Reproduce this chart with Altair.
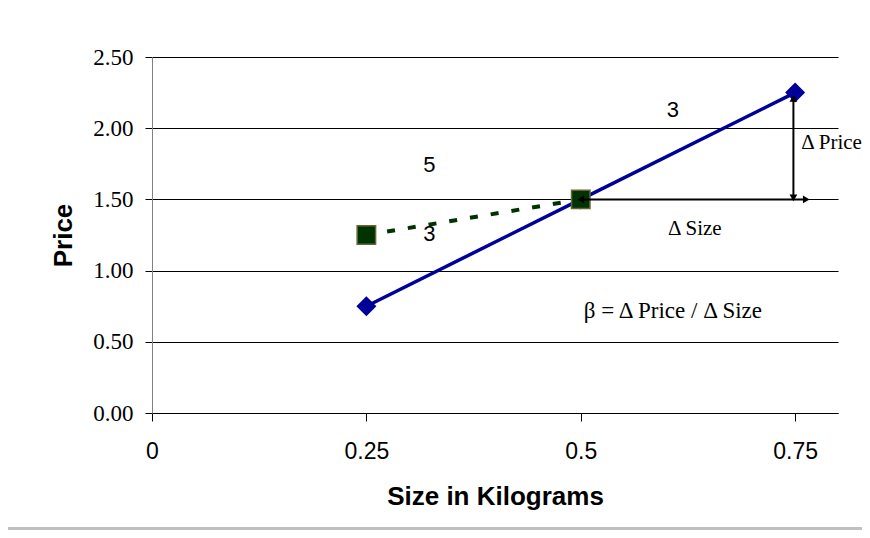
import altair as alt
import pandas as pd

# Data
blue_size = [0.25, 0.5, 0.75]
blue_price = [0.75, 1.5, 2.25]
green_size = [0.25, 0.5]
green_price = [1.25, 1.5]

# annotation texts
sans_labels = ["3", "5", "3"]
sans_x = [0.6075, 0.3236, 0.3236]
sans_y = [2.13, 1.74, 1.255]

serif_labels = ["\u0394 Price", "\u0394 Size", "\u03b2 = \u0394 Price / \u0394 Size"]
serif_x = [0.757, 0.633, 0.6075]
serif_y = [1.895, 1.29, 0.715]
serif_size = [21, 21, 23]
serif_align = ["left", "center", "center"]

# arrows
h_arrow_x = [0.5, 0.763]
h_arrow_y = 1.5
v_arrow_x = 0.748
v_arrow_y = [1.51, 2.21]

blue = pd.DataFrame({"size": blue_size, "price": blue_price})
green = pd.DataFrame({"size": green_size, "price": green_price})
stxt = pd.DataFrame({"t": sans_labels, "x": sans_x, "y": sans_y})
rtxt = pd.DataFrame({"t": serif_labels, "x": serif_x, "y": serif_y,
                     "a": serif_align, "fs": serif_size})
rules = pd.DataFrame({
    "x": [h_arrow_x[0], v_arrow_x],
    "x2": [h_arrow_x[1], v_arrow_x],
    "y": [h_arrow_y, v_arrow_y[0]],
    "y2": [h_arrow_y, v_arrow_y[1]],
})
heads = pd.DataFrame({
    "x": [h_arrow_x[0], h_arrow_x[1], v_arrow_x, v_arrow_x],
    "y": [h_arrow_y, h_arrow_y, v_arrow_y[0], v_arrow_y[1]],
    "shape": ["triangle-left", "triangle-right", "triangle-down", "triangle-up"],
    "dx": [4, -4, 0, 0],
    "dy": [0, 0, -4, 4],
})

xs = alt.Scale(domain=[0, 0.8], nice=False, zero=False)
ys = alt.Scale(domain=[0, 2.5], nice=False)

x_axis = alt.Axis(values=[0, 0.25, 0.5, 0.75], format=".2~f", grid=False,
                  title="Size in Kilograms", domainColor="black", tickColor="black",
                  tickSize=8, labelPadding=19, labelFont="Liberation Sans",
                  labelFontSize=23, labelColor="black", titleFont="Liberation Sans",
                  titleFontSize=26, titleFontWeight="bold", titleColor="black",
                  titlePadding=20, labelFlush=False)
y_axis = alt.Axis(values=[0, 0.5, 1.0, 1.5, 2.0, 2.5], format=".2f", grid=True,
                  gridColor="black", gridWidth=1, gridOpacity=1,
                  title="Price", domainColor="#808080", tickColor="black",
                  tickSize=7, labelPadding=12, labelFont="Liberation Serif",
                  labelFontSize=23, labelColor="black", titleFont="Liberation Sans",
                  titleFontSize=26, titleFontWeight="bold", titleColor="black",
                  titlePadding=16, labelFlush=False)

base_line = alt.Chart(blue).mark_line(color="#000099", strokeWidth=3.5).encode(
    x=alt.X("size:Q", scale=xs, axis=x_axis),
    y=alt.Y("price:Q", scale=ys, axis=y_axis),
)
blue_pts = alt.Chart(blue).mark_point(shape="diamond", filled=True, color="#000099",
                                      size=400, opacity=1).encode(
    x=alt.X("size:Q", scale=xs), y=alt.Y("price:Q", scale=ys))
green_line = alt.Chart(green).mark_line(color="#003300", strokeWidth=4,
                                        strokeDash=[8, 13]).encode(
    x=alt.X("size:Q", scale=xs), y=alt.Y("price:Q", scale=ys))
green_pts = alt.Chart(green).mark_point(shape="square", filled=True, fill="#003300",
                                        stroke="#666633", strokeWidth=1.5,
                                        size=340, opacity=1).encode(
    x=alt.X("size:Q", scale=xs), y=alt.Y("price:Q", scale=ys))
arrow_lines = alt.Chart(rules).mark_rule(color="black", strokeWidth=2).encode(
    x=alt.X("x:Q", scale=xs), x2="x2:Q",
    y=alt.Y("y:Q", scale=ys), y2="y2:Q")
arrow_heads = alt.Chart(heads).mark_point(filled=True, color="black", size=60,
                                          opacity=1).encode(
    x=alt.X("x:Q", scale=xs), y=alt.Y("y:Q", scale=ys),
    shape=alt.Shape("shape:N", scale=None),
    xOffset=alt.XOffset("dx:Q", scale=None),
    yOffset=alt.YOffset("dy:Q", scale=None))
sans_text = alt.Chart(stxt).mark_text(font="Liberation Sans", fontSize=22,
                                      color="black").encode(
    x=alt.X("x:Q", scale=xs), y=alt.Y("y:Q", scale=ys), text="t:N")
serif_left = alt.Chart(rtxt[rtxt.a == "left"]).mark_text(
    font="Liberation Serif", color="black", align="left").encode(
    x=alt.X("x:Q", scale=xs), y=alt.Y("y:Q", scale=ys), text="t:N",
    size=alt.Size("fs:Q", scale=None))
serif_center = alt.Chart(rtxt[rtxt.a == "center"]).mark_text(
    font="Liberation Serif", color="black", align="center").encode(
    x=alt.X("x:Q", scale=xs), y=alt.Y("y:Q", scale=ys), text="t:N",
    size=alt.Size("fs:Q", scale=None))
band = alt.Chart(pd.DataFrame({"k": [0]})).mark_rect(color="#c0c0c0").encode(
    x=alt.value(-160), x2=alt.value(740), y=alt.value(470), y2=alt.value(500))

chart = alt.layer(base_line, blue_pts, green_line, green_pts, arrow_lines,
                  arrow_heads, sans_text, serif_left, serif_center, band).properties(
    width=686, height=356,
    autosize=alt.AutoSizeParams(type="none"),
    padding={"left": 144, "top": 49, "right": 24, "bottom": 117},
    background="white",
).configure_view(stroke=None)

chart.save("out.html", embed_options={"renderer": "svg", "actions": False})
